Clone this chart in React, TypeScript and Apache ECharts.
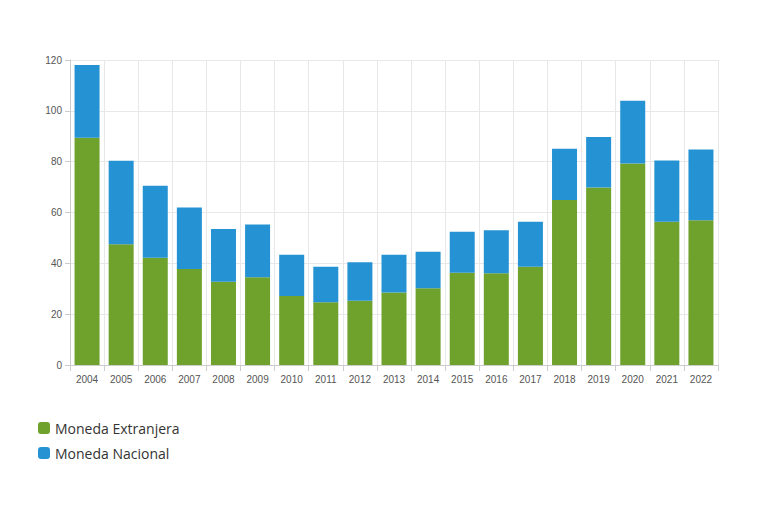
import React, { useEffect, useRef } from "react";
import * as echarts from "echarts";

const years = ["2004","2005","2006","2007","2008","2009","2010","2011","2012","2013","2014","2015","2016","2017","2018","2019","2020","2021","2022"];
const extranjera = [89.4,47.5,42.2,37.8,32.8,34.5,27.1,24.7,25.3,28.5,30.2,36.3,36.1,38.7,64.9,69.8,79.3,56.4,57.0];
const nacional = [28.6,32.9,28.3,24.2,20.7,20.8,16.3,14.0,15.1,14.9,14.4,16.1,16.9,17.7,20.2,19.9,24.7,24.1,27.8];
const yTicks = { min: 0, max: 120, interval: 20 };

export default function App() {
  const ref = useRef<HTMLDivElement>(null);
  useEffect(() => {
    if (!ref.current) return;
    const chart = echarts.init(ref.current, undefined, { renderer: "svg" });
    chart.setOption({
      animation: false,
      backgroundColor: "#ffffff",
      grid: { left: 62, right: 42, top: 52, bottom: 139, containLabel: false },
      legend: {
        orient: "vertical",
        left: 25,
        top: 408,
        itemWidth: 12,
        itemHeight: 12,
        itemGap: 11,
        icon: "roundRect",
        textStyle: { fontSize: 14, color: "#333", fontFamily: "Open Sans" },
        data: ["Moneda Extranjera", "Moneda Nacional"],
      },
      xAxis: {
        type: "category",
        data: years,
        axisLine: { lineStyle: { color: "#cccccc" } },
        axisTick: { show: true, length: 6, lineStyle: { color: "#cccccc" } },
        axisLabel: { fontSize: 10, color: "#555", margin: 9, fontFamily: "Arial" },
        splitLine: { show: true, lineStyle: { color: "#e8e8e8" } },
      },
      yAxis: {
        type: "value",
        min: yTicks.min,
        max: yTicks.max,
        interval: yTicks.interval,
        axisLine: { show: true, lineStyle: { color: "#cccccc" } },
        axisTick: { show: true, length: 5, lineStyle: { color: "#cccccc" } },
        axisLabel: { fontSize: 10, color: "#555", margin: 8, fontFamily: "Arial" },
        splitLine: { show: true, lineStyle: { color: "#e8e8e8" } },
      },
      series: [
        {
          name: "Moneda Extranjera",
          type: "bar",
          stack: "total",
          data: extranjera,
          barWidth: 25,
          itemStyle: { color: "#6ea22d" },
        },
        {
          name: "Moneda Nacional",
          type: "bar",
          stack: "total",
          data: nacional,
          barWidth: 25,
          itemStyle: { color: "#2593d3" },
        },
      ],
    });
    return () => chart.dispose();
  }, []);
  return <div ref={ref} style={{ width: 752, height: 496 }} />;
}
